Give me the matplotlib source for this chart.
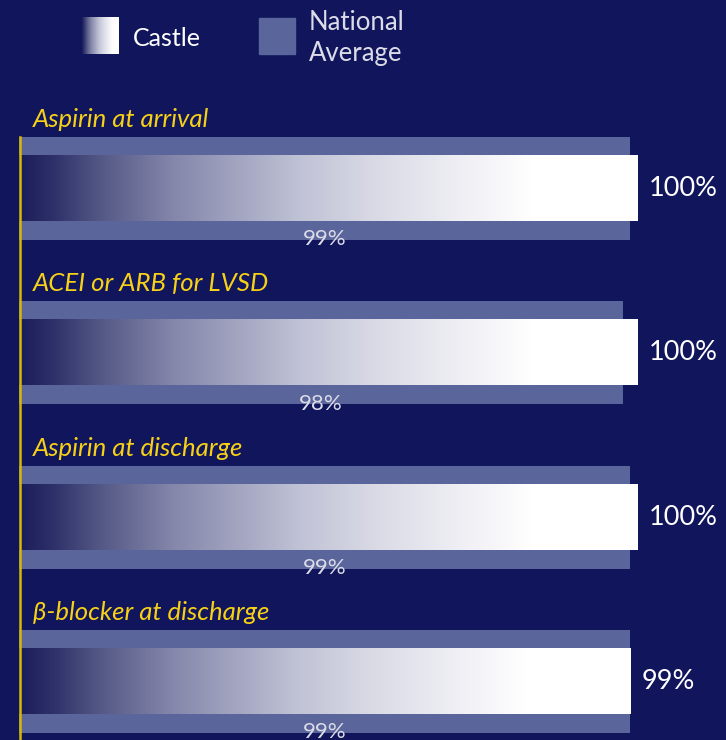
import matplotlib.pyplot as plt
import numpy as np
from matplotlib.colors import LinearSegmentedColormap

# data
measures = ['Aspirin at arrival', 'ACEI or ARB for LVSD',
            'Aspirin at discharge', 'β-blocker at discharge']
castle = [100, 100, 100, 99]
national = [99, 98, 99, 99]
castle_labels = ['100%', '100%', '100%', '99%']
national_labels = ['99%', '98%', '99%', '99%']

bg = '#10155c'
nat_color = '#5a659c'
yellow = '#f7d117'

W, H = 726, 740
fig = plt.figure(figsize=(W / 100, H / 100), dpi=100)
fig.patch.set_facecolor(bg)

grad = LinearSegmentedColormap.from_list('castle', [
    (0.0, '#1a1d5a'), (0.05, '#2c2f68'), (0.13, '#545885'),
    (0.25, '#8587ab'), (0.45, '#bfc1d5'), (0.57, '#d8d9e4'),
    (0.71, '#eeeef4'), (0.83, '#ffffff'), (1.0, '#ffffff')])

# axes placed in pixels: bars start at x=19, 100% ends at x=638
x0, x1 = 19, 638
ytop, ybot = 137, 733
ax = fig.add_axes([x0 / W, 1 - ybot / H, (x1 - x0) / W, (ybot - ytop) / H])
ax.set_facecolor(bg)
xmin = 17.5
nat_h = 0.627
cas_h = 0.396

ypos = np.arange(len(measures))
ax.barh(ypos, np.array(national) - xmin, left=xmin, height=nat_h,
        color=nat_color, zorder=1)

g = np.linspace(0, 1, 256).reshape(1, -1)
for y, v in zip(ypos, castle):
    ax.imshow(g, cmap=grad, aspect='auto', zorder=2,
              extent=(xmin, v, y + cas_h / 2, y - cas_h / 2))
ax.set_xlim(xmin, 100)
ax.set_ylim(len(measures) - 1 + nat_h / 2, -nat_h / 2)
ax.axis('off')

for y, v, lab in zip(ypos, castle, castle_labels):
    ax.text(v + 1.5, y, lab, color='white', fontsize=19.5, family='Lato',
            va='center', ha='left', clip_on=False, zorder=4)
for y, v, lab in zip(ypos, national, national_labels):
    ax.text((xmin + v) / 2, y + nat_h / 2 - 0.005, lab, color='#dcdce8',
            fontsize=16, family='Lato', va='center', ha='center',
            clip_on=False, zorder=4)
for y, lab in zip(ypos, measures):
    ax.text(xmin + 1.8, y - nat_h / 2 - 0.06, lab, color=yellow,
            fontsize=18.5, family='Lato', style='italic', va='baseline',
            ha='left', clip_on=False, zorder=4)

# yellow axis line
fig.add_artist(plt.Line2D([19.5 / W, 19.5 / W], [0, 1 - 137 / H],
                          color='#d9b800', lw=1.8))

# legend
lg = fig.add_axes([82 / W, 1 - 54 / H, 37 / W, 37 / H])
lg.imshow(g, cmap=grad, aspect='auto', extent=(0, 1, 0, 1))
lg.axis('off')
fig.add_artist(plt.Rectangle((259 / W, 1 - 54 / H), 36 / W, 36 / H,
                             color=nat_color, transform=fig.transFigure))
fig.text(133 / W, 1 - 46 / H, 'Castle', color='white', fontsize=18,
         family='Lato', va='baseline')
fig.text(309 / W, 1 - 30 / H, 'National', color='#dcdce8', fontsize=18.5,
         family='Lato', va='baseline')
fig.text(309 / W, 1 - 61 / H, 'Average', color='#dcdce8', fontsize=18.5,
         family='Lato', va='baseline')

fig.savefig('out.png', dpi=100, facecolor=bg)
